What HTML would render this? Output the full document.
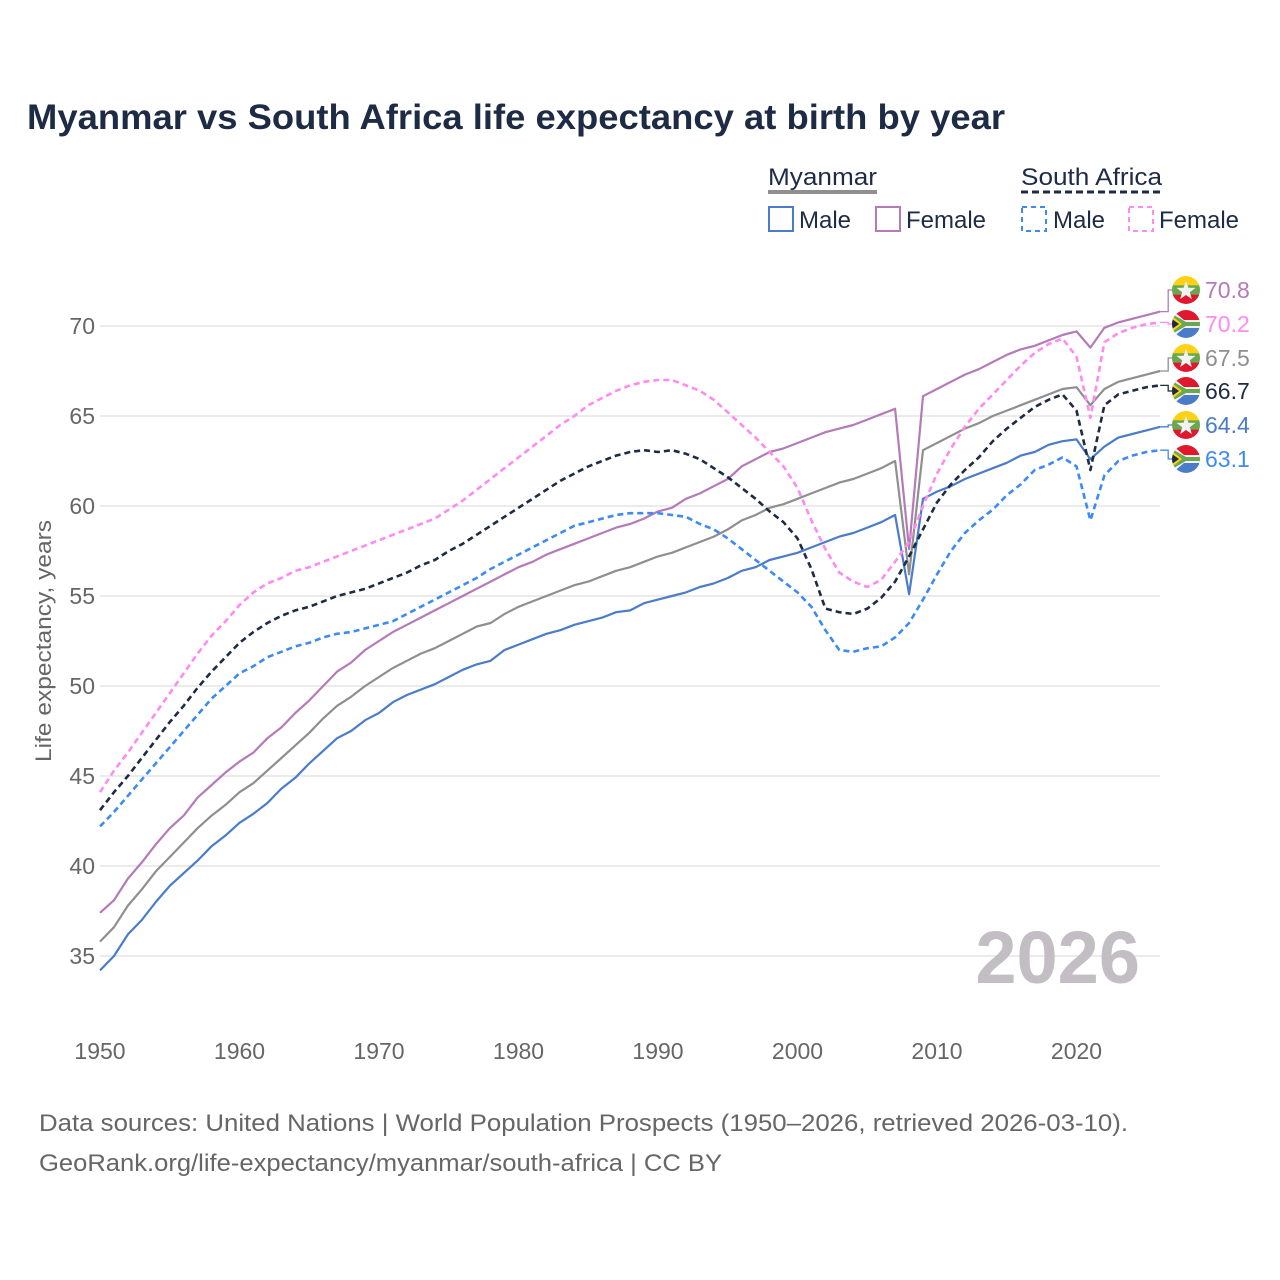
<!DOCTYPE html>
<html><head><meta charset="utf-8">
<style>
html,body{margin:0;padding:0;background:#fff;}
svg{display:block;font-family:"Liberation Sans",sans-serif;}
</style></head>
<body>
<svg id="chart" width="1280" height="1280" viewBox="0 0 1280 1280" xmlns="http://www.w3.org/2000/svg">
<rect width="1280" height="1280" fill="#fff"/>
<text x="27" y="129" font-size="35" font-weight="bold" fill="#1e2b44" textLength="978" lengthAdjust="spacingAndGlyphs">Myanmar vs South Africa life expectancy at birth by year</text>
<g font-size="24" fill="#1e2b44">
  <text x="768" y="185" textLength="109" lengthAdjust="spacingAndGlyphs">Myanmar</text>
  <line x1="768" y1="192" x2="877" y2="192" stroke="#8f8f8f" stroke-width="4"/>
  <text x="1021" y="185" textLength="141" lengthAdjust="spacingAndGlyphs">South Africa</text>
  <line x1="1021" y1="192" x2="1162" y2="192" stroke="#1e2b44" stroke-width="3" stroke-dasharray="7,4"/>
  <g><rect x="769" y="207" width="24" height="24" fill="none" stroke="#4a7cc9" stroke-width="2"/><text x="799" y="228">Male</text></g>
  <g><rect x="876" y="207" width="24" height="24" fill="none" stroke="#b57ab8" stroke-width="2"/><text x="906" y="228">Female</text></g>
  <g><rect x="1022" y="207" width="24" height="24" fill="none" stroke="#3d8bf2" stroke-width="2" stroke-dasharray="5,4"/><text x="1053" y="228">Male</text></g>
  <g><rect x="1129" y="207" width="24" height="24" fill="none" stroke="#ff8af0" stroke-width="2" stroke-dasharray="5,4"/><text x="1159" y="228">Female</text></g>
</g>
<g id="grid"></g>
<g id="yticks" font-size="23" fill="#666" text-anchor="end"></g>
<g id="xticks" font-size="23" fill="#666" text-anchor="middle"></g>
<text transform="translate(51,641) rotate(-90)" text-anchor="middle" font-size="22" fill="#666" textLength="242" lengthAdjust="spacingAndGlyphs">Life expectancy, years</text>
<text x="1140" y="983" text-anchor="end" font-size="74" font-weight="bold" fill="#c2bec3">2026</text>
<g id="series"></g>
<g id="endlabels" font-size="23"></g>
<text x="39" y="1131" font-size="24" fill="#666" textLength="1089" lengthAdjust="spacingAndGlyphs">Data sources: United Nations | World Population Prospects (1950–2026, retrieved 2026-03-10).</text>
<text x="39" y="1171" font-size="24" fill="#666" textLength="683" lengthAdjust="spacingAndGlyphs">GeoRank.org/life-expectancy/myanmar/south-africa | CC BY</text>
</svg>
<script>
const years = []; for (let y = 1950; y <= 2026; y++) years.push(y);
const yTicks = [35, 40, 45, 50, 55, 60, 65, 70];
const xTicks = [1950, 1960, 1970, 1980, 1990, 2000, 2010, 2020];
const mmMale = [34.2,35.0,36.2,37.0,38.0,38.9,39.6,40.3,41.1,41.7,42.4,42.9,43.5,44.3,44.9,45.7,46.4,47.1,47.5,48.1,48.5,49.1,49.5,49.8,50.1,50.5,50.9,51.2,51.4,52.0,52.3,52.6,52.9,53.1,53.4,53.6,53.8,54.1,54.2,54.6,54.8,55.0,55.2,55.5,55.7,56.0,56.4,56.6,57.0,57.2,57.4,57.7,58.0,58.3,58.5,58.8,59.1,59.5,55.1,60.4,60.8,61.1,61.5,61.8,62.1,62.4,62.8,63.0,63.4,63.6,63.7,62.6,63.3,63.8,64.0,64.2,64.4];
const mmTotal = [35.8,36.6,37.8,38.7,39.7,40.5,41.3,42.1,42.8,43.4,44.1,44.6,45.3,46.0,46.7,47.4,48.2,48.9,49.4,50.0,50.5,51.0,51.4,51.8,52.1,52.5,52.9,53.3,53.5,54.0,54.4,54.7,55.0,55.3,55.6,55.8,56.1,56.4,56.6,56.9,57.2,57.4,57.7,58.0,58.3,58.7,59.2,59.5,59.9,60.1,60.4,60.7,61.0,61.3,61.5,61.8,62.1,62.5,56.2,63.1,63.5,63.9,64.3,64.6,65.0,65.3,65.6,65.9,66.2,66.5,66.6,65.6,66.5,66.9,67.1,67.3,67.5];
const mmFemale = [37.4,38.1,39.3,40.2,41.2,42.1,42.8,43.8,44.5,45.2,45.8,46.3,47.1,47.7,48.5,49.2,50.0,50.8,51.3,52.0,52.5,53.0,53.4,53.8,54.2,54.6,55.0,55.4,55.8,56.2,56.6,56.9,57.3,57.6,57.9,58.2,58.5,58.8,59.0,59.3,59.7,59.9,60.4,60.7,61.1,61.5,62.2,62.6,63.0,63.2,63.5,63.8,64.1,64.3,64.5,64.8,65.1,65.4,57.6,66.1,66.5,66.9,67.3,67.6,68.0,68.4,68.7,68.9,69.2,69.5,69.7,68.8,69.9,70.2,70.4,70.6,70.8];
const saMale = [42.2,43.0,43.9,44.8,45.7,46.6,47.5,48.4,49.3,50.0,50.7,51.1,51.6,51.9,52.2,52.4,52.7,52.9,53.0,53.2,53.4,53.6,54.0,54.4,54.8,55.2,55.6,56.0,56.5,56.9,57.3,57.7,58.1,58.5,58.9,59.1,59.3,59.5,59.6,59.6,59.6,59.5,59.4,59.0,58.7,58.2,57.6,57.0,56.4,55.8,55.2,54.4,53.1,52.0,51.9,52.1,52.2,52.7,53.5,54.8,56.2,57.5,58.5,59.2,59.8,60.6,61.2,62.0,62.3,62.7,62.2,59.2,61.7,62.5,62.8,63.0,63.1];
const saTotal = [43.1,44.1,45.0,46.0,47.0,48.0,48.9,49.9,50.8,51.6,52.4,53.0,53.5,53.9,54.2,54.4,54.7,55.0,55.2,55.4,55.7,56.0,56.3,56.7,57.0,57.5,57.9,58.4,58.9,59.4,59.9,60.4,60.9,61.4,61.8,62.2,62.5,62.8,63.0,63.1,63.0,63.1,62.9,62.6,62.1,61.6,61.0,60.4,59.7,59.1,58.2,56.5,54.3,54.1,54.0,54.3,54.9,55.8,57.2,58.7,60.2,61.2,62.0,62.7,63.6,64.3,64.9,65.5,65.9,66.2,65.3,62.0,65.6,66.2,66.4,66.6,66.7];
const saFemale = [44.1,45.3,46.3,47.4,48.5,49.6,50.7,51.8,52.8,53.6,54.5,55.2,55.7,56.0,56.4,56.6,56.9,57.2,57.5,57.8,58.1,58.4,58.7,59.0,59.3,59.8,60.3,60.9,61.5,62.1,62.7,63.3,63.9,64.5,65.0,65.6,66.0,66.4,66.7,66.9,67.0,67.0,66.7,66.4,65.9,65.2,64.5,63.8,63.0,62.2,61.0,59.2,57.6,56.3,55.8,55.5,55.9,56.9,58.0,60.0,61.8,63.2,64.4,65.4,66.2,67.0,67.8,68.5,69.0,69.3,68.3,64.9,69.1,69.6,69.9,70.1,70.2];

const NS = 'http://www.w3.org/2000/svg';
const xScale = yr => 100 + (yr - 1950) * 13.95;
const yScale = v => 326 + (70 - v) * 18;
function mk(tag, attrs, parent) { const e = document.createElementNS(NS, tag); for (const k in attrs) e.setAttribute(k, attrs[k]); parent.appendChild(e); return e; }

const grid = document.getElementById('grid'), yt = document.getElementById('yticks'), xt = document.getElementById('xticks');
yTicks.forEach(v => {
  const l = mk('line', {x1: 100, x2: 1160, y1: yScale(v), y2: yScale(v), stroke: '#ebebeb', 'stroke-width': 2}, grid);
  
  
  const t = mk('text', {x: 95, y: yScale(v) + 8}, yt); t.textContent = v;
  
  
});
xTicks.forEach(yr => {
  const t = mk('text', {x: xScale(yr), y: 1059}, xt); t.textContent = yr;
  
  
});

const seriesDefs = [
  {name: 'myanmar-male', data: mmMale, color: '#4a7cc9', dash: null, labelColor: '#4a7cc9', ly: 425, flag: 'mm'},
  {name: 'myanmar-total', data: mmTotal, color: '#8f8f8f', dash: null, labelColor: '#8f8f8f', ly: 358, flag: 'mm'},
  {name: 'myanmar-female', data: mmFemale, color: '#b57ab8', dash: null, labelColor: '#b57ab8', ly: 290, flag: 'mm'},
  {name: 'south-africa-male', data: saMale, color: '#3d8bf2', dash: '6,4', labelColor: '#3d8bf2', ly: 459, flag: 'za'},
  {name: 'south-africa-total', data: saTotal, color: '#1e2b44', dash: '6,4', labelColor: '#1e2b44', ly: 391, flag: 'za'},
  {name: 'south-africa-female', data: saFemale, color: '#ff8af0', dash: '6,4', labelColor: '#ff8af0', ly: 324, flag: 'za'}
];
const sg = document.getElementById('series'), eg = document.getElementById('endlabels');
seriesDefs.forEach(s => {
  const d = s.data.map((v, i) => (i ? 'L' : 'M') + xScale(years[i]).toFixed(1) + ',' + yScale(v).toFixed(1)).join('');
  const p = mk('path', {d: d, fill: 'none', stroke: s.color, 'stroke-width': s.dash ? 2.6 : 2.2, 'stroke-linejoin': 'round'}, sg);
  if (s.dash) p.setAttribute('stroke-dasharray', s.dash);
  
  
  const last = s.data[s.data.length - 1];
  const ex = xScale(years[years.length - 1]), ey = yScale(last);
  const c = mk('path', {d: `M${ex},${ey}L${ex + 8},${ey}L${ex + 8},${s.ly}L${ex + 14},${s.ly}`, fill: 'none', stroke: s.color, 'stroke-width': 1.3}, eg);
  
  
  const g = mk('g', {}, eg);
  
  
  const cx = 1186, cy = s.ly, r = 14;
  const cid = 'clip-' + s.name;
  const cp = mk('clipPath', {id: cid}, g); mk('circle', {cx: cx, cy: cy, r: r}, cp);
  const fg = mk('g', {'clip-path': `url(#${cid})`}, g);
  if (s.flag === 'mm') {
    mk('rect', {x: cx - r, y: cy - r, width: 2 * r, height: 10, fill: '#fcd116'}, fg);
    mk('rect', {x: cx - r, y: cy - r + 9.33, width: 2 * r, height: 10, fill: '#6aa84f'}, fg);
    mk('rect', {x: cx - r, y: cy - r + 18.66, width: 2 * r, height: 10, fill: '#e0182e'}, fg);
    const pts = []; for (let k = 0; k < 10; k++) { const a = -Math.PI / 2 + k * Math.PI / 5, rr = k % 2 ? 4 : 10; pts.push((cx + rr * Math.cos(a)).toFixed(1) + ',' + (cy + 1 + rr * Math.sin(a)).toFixed(1)); }
    mk('polygon', {points: pts.join(' '), fill: '#f2f2f2'}, fg);
  } else {
    mk('rect', {x: cx - r, y: cy - r, width: 2 * r, height: r, fill: '#e0182e'}, fg);
    mk('rect', {x: cx - r, y: cy, width: 2 * r, height: r, fill: '#4a7cc9'}, fg);
    mk('path', {d: `M${cx - r},${cy - r}L${cx - 2},${cy - 4}L${cx + r},${cy - 4}L${cx + r},${cy + 4}L${cx - 2},${cy + 4}L${cx - r},${cy + r}Z`, fill: '#f2f2f2'}, fg);
    mk('path', {d: `M${cx - r},${cy - r + 4}L${cx},${cy - 2}L${cx + r},${cy - 2}L${cx + r},${cy + 2}L${cx},${cy + 2}L${cx - r},${cy + r - 4}Z`, fill: '#6aa84f'}, fg);
    mk('path', {d: `M${cx - r},${cy - 8}L${cx - 4},${cy}L${cx - r},${cy + 8}Z`, fill: '#fcd116'}, fg);
    mk('path', {d: `M${cx - r},${cy - 5}L${cx - 7},${cy}L${cx - r},${cy + 5}Z`, fill: '#1e2b44'}, fg);
  }
  const t = mk('text', {x: 1205, y: s.ly + 8, fill: s.labelColor}, eg);
  t.textContent = last.toFixed(1);
  
  
});
</script>
</body></html>
